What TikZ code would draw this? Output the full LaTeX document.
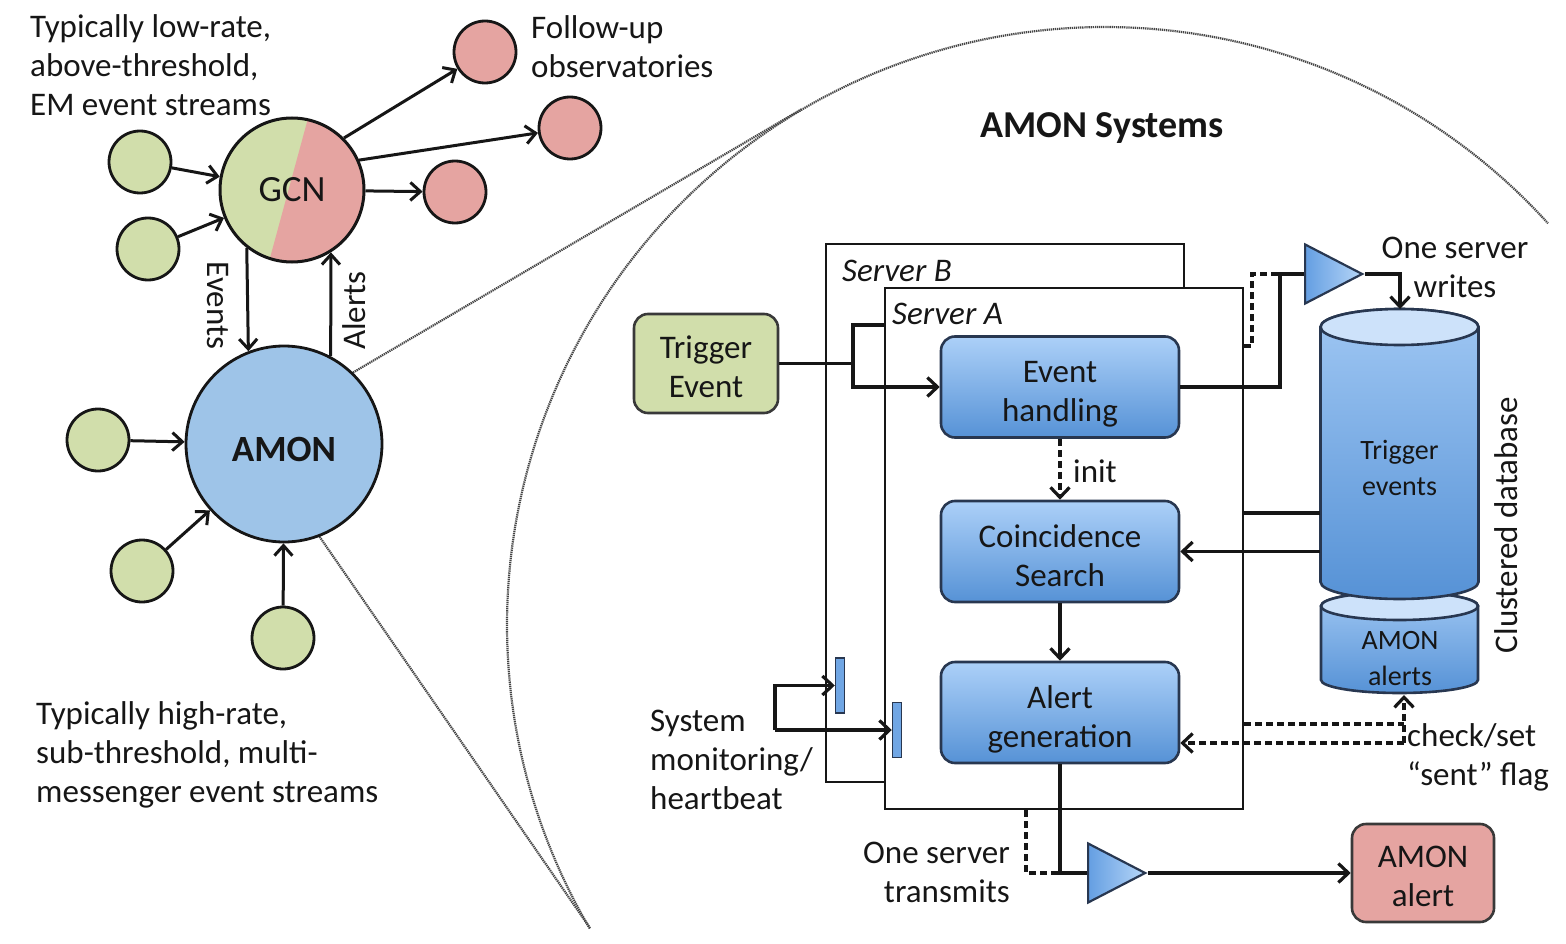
\documentclass[tikz,border=0pt]{standalone}
\usepackage{fontspec}
\setmainfont{Carlito}
\usetikzlibrary{arrows.meta,shapes.geometric}
\definecolor{cgreen}{RGB}{209,222,171}
\definecolor{cpink}{RGB}{229,164,161}
\definecolor{camon}{RGB}{158,196,232}
\definecolor{btop}{RGB}{172,208,248}
\definecolor{bbot}{RGB}{86,146,214}
\definecolor{bedge}{RGB}{40,55,80}
\definecolor{clens}{RGB}{70,70,70}
\definecolor{ctop}{RGB}{205,226,250}
\definecolor{trileft}{RGB}{100,158,226}
\definecolor{triright}{RGB}{182,214,247}
\definecolor{cbar}{RGB}{112,166,228}
\definecolor{ink}{RGB}{22,22,22}
\newcommand{\sh}[1]{\rule{0pt}{#1pt}}
\begin{document}
\begin{tikzpicture}[x=1pt,y=-1pt,
  every node/.style={font=\fontsize{33}{39}\selectfont, text=ink},
  conn/.style={draw=ink, line width=3.4pt},
  dconn/.style={conn, dash pattern=on 7pt off 4pt},
  arr/.style={conn, -{Straight Barb[length=10pt,width=19pt,line width=3.2pt]}},
  darr/.style={arr, dash pattern=on 7pt off 4pt},
  arrl/.style={draw=ink, line width=3pt, -{Straight Barb[length=10pt,width=18pt,line width=3pt]}},
  lens/.style={draw=clens, line width=2.2pt, dash pattern=on 1.3pt off 0.8pt},
  gsmall/.style={circle, draw=ink, line width=2.8pt, fill=cgreen, minimum size=62pt, inner sep=0},
  rsmall/.style={circle, draw=ink, line width=2.8pt, fill=cpink, minimum size=62pt, inner sep=0},
  srv/.style={draw=ink, line width=2.6pt, fill=white, inner sep=0},
  tbox/.style={draw=ink!85, line width=2.6pt, rounded corners=14pt, align=center, inner sep=0},
  bbox/.style={draw=bedge, line width=2.6pt, rounded corners=14pt, top color=btop, bottom color=bbot,
    minimum width=238pt, minimum height=101pt, align=center, inner sep=0},
  tri/.style={isosceles triangle, isosceles triangle stretches, draw=bedge, line width=2.2pt,
    left color=trileft, right color=triright, inner sep=0, minimum height=57pt, minimum width=59pt},
  bar/.style={draw=bedge, line width=1.5pt, fill=cbar, minimum width=9pt, minimum height=55pt, inner sep=0},
  cyl/.style={draw=bedge, line width=2.6pt, top color=btop!85!bbot, bottom color=bbot},
  cylsmall/.style={font=\fontsize{28}{36}\selectfont, align=center, inner sep=0}
]
\useasboundingbox (0,0) rectangle (1566,944);

% ---------- lens ----------
\coordinate (lensT) at (802,109);
\coordinate (lensB) at (590,928);
\draw[lens] plot[domain=149.5:317.8, samples=150, smooth] ({1105+598*cos(\x)},{625+598*sin(\x)});

% ---------- left part ----------
\begin{scope}
  \clip (292,190) circle[radius=72pt];
  \fill[cgreen] (200,100) rectangle (400,280);
  \fill[cpink] (313,100) -- (264,280) -- (400,280) -- (400,100) -- cycle;
\end{scope}
\node[circle, draw=ink, line width=3pt, minimum size=144pt, inner sep=0,
      font=\fontsize{37}{40}\selectfont] (gcn) at (292,190) {GCN};
\node[circle, draw=ink, fill=camon, line width=2.8pt, minimum size=196pt, inner sep=0,
      text height=34pt, text depth=0pt, font=\bfseries\fontsize{37}{40}\selectfont] (amon) at (284,444) {AMON};

\draw[lens] (amon.46) -- (lensT);
\draw[lens] (amon.-69) -- (lensB);

\node[gsmall] (g1) at (140,162) {};
\node[gsmall] (g2) at (148,249) {};
\node[gsmall] (g3) at (98,440) {};
\node[gsmall] (g4) at (142,571) {};
\node[gsmall] (g5) at (283,638) {};
\node[rsmall] (r1) at (485,52) {};
\node[rsmall] (r2) at (570,128) {};
\node[rsmall] (r3) at (455,192) {};

\draw[arrl] (g1) -- (gcn);
\draw[arrl] (g2) -- (gcn);
\draw[arrl] (gcn.45) -- (r1);
\draw[arrl] (gcn.24) -- (r2);
\draw[arrl] (gcn) -- (r3);
\draw[arrl] (gcn.-128) -- (amon.111.5);
\draw[arrl] (amon.62) -- (gcn.-58);
\draw[arrl] (g3) -- (amon);
\draw[arrl] (g4) -- (amon);
\draw[arrl] (g5) -- (amon);

\node[rotate=-90, inner sep=0] (events) at (218,305.5) {Events};
\node[rotate=90, inner sep=0] (alerts) at (354,310.5) {Alerts};

\node[anchor=west, align=left, inner sep=0] (toptxt) at (30,65.5)
  {Typically low-rate,\\above-threshold,\\EM event streams};
\node[anchor=west, align=left, inner sep=0] (fup) at (531,46.5)
  {Follow-up\\observatories};
\node[anchor=west, align=left, inner sep=0] (bottxt) at (36,754.5)
  {Typically high-rate,\\sub-threshold, multi-\\messenger event streams};

% ---------- right part ----------
\node[font=\bfseries\fontsize{38}{42}\selectfont] (title) at (1102,128) {AMON Systems};

\node[srv, minimum width=358pt, minimum height=538pt] (srvB) at (1005,513) {};
\node[srv, minimum width=358pt, minimum height=521pt] (srvA) at (1064,548.5) {};
\node[anchor=west, inner sep=0, font=\itshape\fontsize{33}{39}\selectfont] (lblB) at (842,271) {Server B};
\node[anchor=west, inner sep=0, font=\itshape\fontsize{33}{39}\selectfont] (lblA) at (892,314) {Server A};

\node[tbox, fill=cgreen, minimum width=144pt, minimum height=99pt] (trig) at (706,363.5) {\sh{29}Trigger\\Event};
\node[bbox] (eh) at (1060,387) {\sh{35}Event\\handling};
\node[bbox] (cs) at (1060,551.5) {\sh{31}Coincidence\\Search};
\node[bbox] (ag) at (1060,712.5) {\sh{37}Alert\\generation};
\node[tbox, fill=cpink, minimum width=142pt, minimum height=98pt] (alert) at (1423,873) {\sh{29}AMON\\alert};

% cylinders
\path[cyl] (1321,606) -- (1321,680) arc[start angle=180, end angle=360, x radius=78.5pt, y radius=13pt]
  -- (1478,606) arc[start angle=0, end angle=180, x radius=78.5pt, y radius=14pt] -- cycle;
\draw[draw=bedge, line width=2.6pt, fill=ctop] (1399.5,606) ellipse[x radius=78.5pt, y radius=14pt];
\path[cyl] (1320.5,327) -- (1320.5,582) arc[start angle=180, end angle=360, x radius=79pt, y radius=17pt]
  -- (1478.5,327) arc[start angle=0, end angle=180, x radius=79pt, y radius=18pt] -- cycle;
\draw[draw=bedge, line width=2.6pt, fill=ctop] (1399.5,327) ellipse[x radius=79pt, y radius=18pt];
\node[cylsmall] (cyl1) at (1399.5,468) {Trigger\\events};
\node[cylsmall] (cyl2) at (1400,659) {AMON\\alerts};
\node[rotate=90, inner sep=0] (cdb) at (1506,525) {Clustered database};

\node[tri, anchor=apex] (tri1) at (1365,274) {};
\node[tri, anchor=apex] (tri2) at (1148,873) {};

\node[bar] (bar1) at (840,685.5) {};
\node[bar] (bar2) at (897,730) {};

% labels
\node[inner sep=0, anchor=west] (init) at (1073,471) {init};
\node[align=center, inner sep=0] (wlab) at (1455,267.5) {One server\\writes};
\node[align=right, anchor=east, inner sep=0] (tlab) at (1010,872) {One server\\transmits};
\node[align=left, anchor=west, inner sep=0] (cklab) at (1407,757.5) {check/set\\“sent” flag};
\node[align=left, anchor=west, inner sep=0] (mon) at (650,760) {System\\monitoring/\\heartbeat};

% connectors
\coordinate (tj) at (853,363.5);
\coordinate (tjup) at (853,325);
\draw[conn] (trig.east) -- (tj) -- (tjup) -- (srvA.west |- tjup);
\draw[arr] (tj) |- (eh.west);
\draw[darr] (eh.south) -- (cs.north);
\draw[arr] (cs.south) -- (ag.north);

\coordinate (wj) at (1280,387);
\draw[conn] (eh.east) -- (wj) |- (tri1.west);
\coordinate (dj1) at (1252,346);
\coordinate (dj2) at (1252,274);
\draw[dconn] (srvA.east |- dj1) -- (dj1) -- (dj2) -- (wj |- dj2);
\coordinate (wr) at (1400,274);
\coordinate (cyl1top) at (1400,309);
\draw[arr] (tri1.apex) -- (wr) -- (cyl1top);

\coordinate (c1a) at (1320,513);
\draw[conn] (c1a) -- (srvA.east |- c1a);
\coordinate (c1b) at (1320,551.5);
\draw[arr] (c1b) -- (cs.east);

\coordinate (ck) at (1404,743);
\coordinate (ckb) at (1404,724);
\coordinate (cyl2bot) at (1404,695);
\draw[darr] (ck) -- (ag.east |- ck);
\draw[darr] (ck) -- (cyl2bot);
\draw[dconn] (srvA.east |- ckb) -- (ckb);

\draw[conn] (ag.south) |- (tri2.west);
\coordinate (tj2) at (1026,873);
\draw[dconn] (srvA.south -| tj2) -- (tj2) -- (ag.south |- tj2);
\draw[arr] (tri2.apex) -- (alert.west);

\coordinate (m1) at (775,685.5);
\coordinate (m2) at (775,730);
\draw[arr] (m2) -- (m1) -- (bar1.west);
\draw[arr] (m2) -- (bar2.west);
\end{tikzpicture}
\end{document}
